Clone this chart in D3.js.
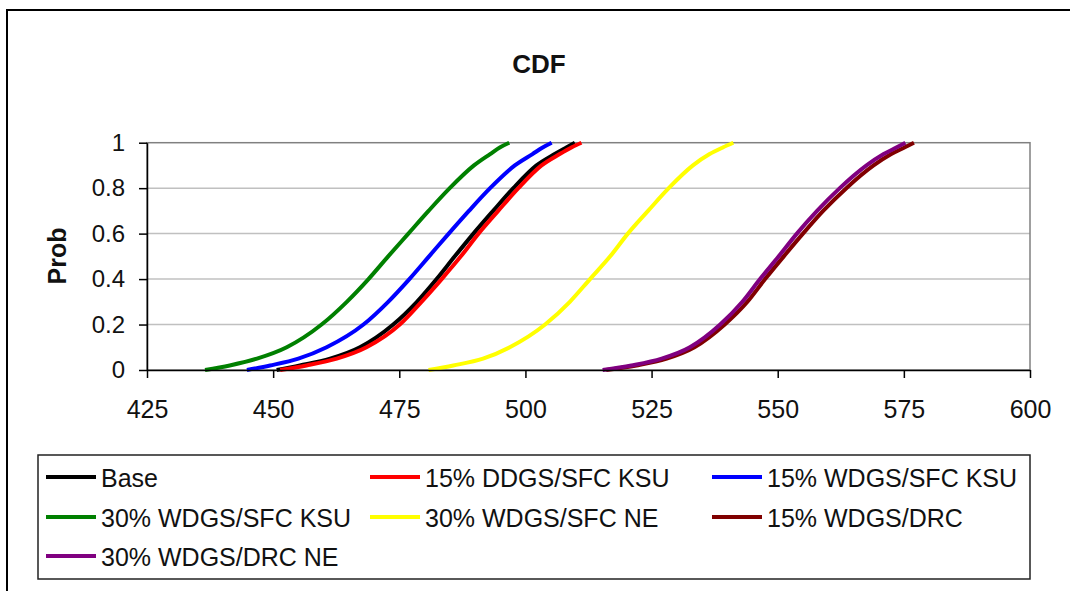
<!DOCTYPE html>
<html>
<head>
<meta charset="utf-8">
<script src="https://cdn.jsdelivr.net/npm/d3@7/dist/d3.min.js"></script>
<style>
	html, body { margin: 0; padding: 0; background: #fff; }
	svg { display: block; font-family: "Liberation Sans", Arial, sans-serif; }
</style>
</head>
<body>
<svg id="chart" width="1070" height="591"></svg>
<script>
'use strict';

// cumulative probability levels at which each curve was read
var probs = [0, 0.02, 0.05, 0.1, 0.2, 0.3, 0.4, 0.5, 0.6, 0.7, 0.8, 0.9, 0.95, 0.98, 1];

var base         = [450.7, 455.3, 461.3, 467.2, 473.8, 478.5, 482.4, 486.0, 489.7, 493.6, 497.6, 502.2, 505.8, 508.2, 509.8];
var ddgsSfcKsu15 = [451.4, 456.6, 462.6, 468.5, 475.1, 479.4, 483.4, 487.2, 490.7, 494.6, 498.6, 503.2, 506.8, 509.2, 511.1];
var wdgsSfcKsu15 = [444.8, 449.4, 455.0, 460.6, 467.9, 472.8, 477.0, 480.9, 484.8, 488.8, 493.0, 497.9, 501.4, 503.5, 505.2];
var wdgsSfcKsu30 = [436.5, 441.4, 446.8, 452.7, 459.6, 464.6, 468.9, 472.8, 476.8, 480.8, 485.0, 489.8, 493.0, 495.0, 496.8];
var wdgsSfcNe30  = [480.8, 485.7, 491.6, 496.9, 503.9, 508.8, 512.8, 516.8, 520.3, 524.3, 528.4, 533.2, 536.5, 539.2, 541.2];
var wdgsDrc15    = [516.0, 522.0, 528.0, 533.5, 539.5, 544.0, 547.5, 551.2, 555.0, 559.0, 563.6, 569.0, 572.5, 575.2, 577.0];
var wdgsDrcNe30  = [515.3, 521.0, 527.0, 532.6, 538.6, 543.0, 546.5, 550.2, 553.8, 557.8, 562.3, 567.6, 571.0, 573.6, 575.3];

var seriesNames  = ['Base', '15% DDGS/SFC KSU', '15% WDGS/SFC KSU', '30% WDGS/SFC KSU', '30% WDGS/SFC NE', '15% WDGS/DRC', '30% WDGS/DRC NE'];
var seriesValues = [base, ddgsSfcKsu15, wdgsSfcKsu15, wdgsSfcKsu30, wdgsSfcNe30, wdgsDrc15, wdgsDrcNe30];
var seriesColors = ['#000000', '#ff0000', '#0000ff', '#008000', '#ffff00', '#800000', '#800080'];

var xTicks = [425, 450, 475, 500, 525, 550, 575, 600];
var yTicks = [0, 0.2, 0.4, 0.6, 0.8, 1];

var svg = d3.select('#chart');
var textColor = '#111';

// outer chart frame
svg.append('rect')
	.attr('x', 7).attr('y', 10)
	.attr('width', 1200).attr('height', 800)
	.attr('fill', '#fff')
	.attr('stroke', '#000')
	.attr('stroke-width', 2);

svg.append('text')
	.attr('x', 539).attr('y', 73)
	.attr('text-anchor', 'middle')
	.attr('font-size', 26)
	.attr('font-weight', 'bold')
	.attr('fill', textColor)
	.text('CDF');

var x = d3.scaleLinear().domain([425, 600]).range([147, 1030]);
var y = d3.scaleLinear().domain([0, 1]).range([370, 142.7]);

// gridlines
svg.append('g').selectAll('line')
		.data(yTicks.filter(function (d) { return d > 0 && d < 1; }))
	.enter()
		.append('line')
		.attr('x1', x(425)).attr('x2', x(600))
		.attr('y1', function (d) { return y(d); })
		.attr('y2', function (d) { return y(d); })
		.attr('stroke', '#c0c0c0')
		.attr('stroke-width', 1.5);

// plot area border
svg.append('rect')
	.attr('x', x(425)).attr('y', y(1))
	.attr('width', x(600) - x(425)).attr('height', y(0) - y(1))
	.attr('fill', 'none')
	.attr('stroke', '#808080')
	.attr('stroke-width', 1.5);

// series, drawn in order so later ones sit on top
var line = d3.line()
	.x(function (d) { return x(d[0]); })
	.y(function (d) { return y(d[1]); })
	.curve(d3.curveMonotoneX);

seriesValues.forEach(function (vals, i) {
	var pts = vals.map(function (v, j) { return [v, probs[j]]; });
	svg.append('path')
		.datum(pts)
		.attr('fill', 'none')
		.attr('stroke', seriesColors[i])
		.attr('stroke-width', 4)
		.attr('d', line);
});

// axes
var yAxis = svg.append('g')
	.attr('transform', 'translate(' + x(425) + ',0)')
	.call(d3.axisLeft(y).tickValues(yTicks).tickSize(8).tickSizeOuter(0).tickPadding(14)
		.tickFormat(function (d) { return String(+d.toFixed(1)); }));

var xAxis = svg.append('g')
	.attr('transform', 'translate(0,' + y(0) + ')')
	.call(d3.axisBottom(x).tickValues(xTicks).tickSize(8).tickSizeOuter(0).tickPadding(22));

[yAxis, xAxis].forEach(function (g) {
	g.select('.domain').attr('stroke', '#000').attr('stroke-width', 1.5);
	g.selectAll('.tick line').attr('stroke', '#000').attr('stroke-width', 1.5);
	g.selectAll('.tick text')
		.attr('fill', textColor)
		.attr('font-family', '"Liberation Sans", Arial, sans-serif');
});
yAxis.selectAll('.tick text').attr('font-size', 24);
xAxis.selectAll('.tick text').attr('font-size', 25);

svg.append('text')
	.attr('transform', 'translate(66,256) rotate(-90)')
	.attr('text-anchor', 'middle')
	.attr('font-size', 25)
	.attr('font-weight', 'bold')
	.attr('fill', textColor)
	.text('Prob');

// legend
var legend = svg.append('g');
legend.append('rect')
	.attr('x', 38).attr('y', 455)
	.attr('width', 992).attr('height', 124)
	.attr('fill', '#fff')
	.attr('stroke', '#222')
	.attr('stroke-width', 1.5);

var colX = [46, 370, 712];
var rowY = [477, 517, 556];

seriesNames.forEach(function (name, i) {
	var cx = colX[i % 3], cy = rowY[Math.floor(i / 3)];
	legend.append('line')
		.attr('x1', cx).attr('x2', cx + 50)
		.attr('y1', cy).attr('y2', cy)
		.attr('stroke', seriesColors[i])
		.attr('stroke-width', 4);
	legend.append('text')
		.attr('x', cx + 55).attr('y', cy + 10)
		.attr('font-size', 25)
		.attr('fill', textColor)
		.text(name);
});
</script>
</body>
</html>
